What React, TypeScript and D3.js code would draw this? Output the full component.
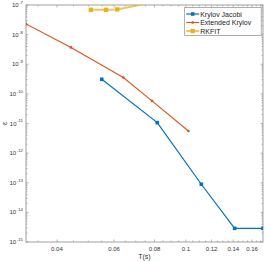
import React, { useRef, useEffect } from 'react';
import * as d3 from 'd3';

// error vs. time
const jacobiT = [0.055, 0.0816, 0.1116, 0.1414, 0.173];
const jacobiErr = [3.1e-10, 1.07e-11, 8.9e-14, 2.9e-15, 2.9e-15];
const extendedT = [0.0321, 0.0442, 0.0641, 0.0786, 0.1018];
const extendedErr = [2.3e-8, 3.7e-9, 3.55e-10, 5.8e-11, 5.6e-12];
const rkfitT = [0.0509, 0.0567, 0.0614, 0.08];
const rkfitErr = [6.9e-8, 6.9e-8, 7.1e-8, 1.28e-7];

const seriesNames = ['Krylov Jacobi', 'Extended Krylov', 'RKFIT'];
const xTickValues = [0.04, 0.06, 0.08, 0.1, 0.12, 0.14, 0.16];
const yExponents = [-7, -8, -9, -10, -11, -12, -13, -14, -15];

const COLORS = ['#0072BD', '#D95319', '#EDB120'];
const FONT = "'Liberation Sans', Arial, sans-serif";

export default function App() {
  const svgRef = useRef<SVGSVGElement>(null);
  const width = 266;
  const height = 262;

  useEffect(() => {
    const svg = d3.select(svgRef.current);
    svg.selectAll('*').remove();

    const margin = { top: 5, right: 3, bottom: 20, left: 26 };
    const innerWidth = width - margin.left - margin.right;
    const innerHeight = height - margin.top - margin.bottom;

    const xScale = d3.scaleLog().domain([0.0321, 0.173]).range([0, innerWidth]);
    const yScale = d3.scaleLog().domain([1e-15, 1e-7]).range([innerHeight, 0]);

    svg.append('defs')
      .append('clipPath')
      .attr('id', 'plot-clip')
      .append('rect')
      .attr('width', innerWidth)
      .attr('height', innerHeight);

    const g = svg.append('g').attr('transform', `translate(${margin.left},${margin.top})`);

    const axisColor = '#8a8a8a';

    // box
    g.append('rect')
      .attr('width', innerWidth)
      .attr('height', innerHeight)
      .attr('fill', 'white')
      .attr('stroke', axisColor)
      .attr('stroke-width', 0.8);

    // x ticks (bottom + top)
    const xMinor = d3.range(0.035, 0.1726, 0.005).filter(v => v > 0.0321 && v < 0.173);
    const xTicksG = g.append('g').attr('stroke', axisColor).attr('stroke-width', 0.6);
    xMinor.forEach(v => {
      const major = xTickValues.some(t => Math.abs(t - v) < 1e-6);
      const len = major ? 2.5 : 1.5;
      const x = xScale(v);
      xTicksG.append('line').attr('x1', x).attr('x2', x).attr('y1', innerHeight).attr('y2', innerHeight - len);
      xTicksG.append('line').attr('x1', x).attr('x2', x).attr('y1', 0).attr('y2', len);
    });

    g.append('g')
      .selectAll('text')
      .data(xTickValues)
      .enter()
      .append('text')
      .attr('x', d => xScale(d))
      .attr('y', innerHeight + 9)
      .attr('text-anchor', 'middle')
      .attr('font-family', FONT)
      .attr('font-size', 6)
      .attr('fill', '#333')
      .text(d => String(d));

    // y ticks (left + right)
    const yTicksG = g.append('g').attr('stroke', axisColor).attr('stroke-width', 0.6);
    yExponents.forEach(e => {
      const y = yScale(Math.pow(10, e));
      yTicksG.append('line').attr('x1', 0).attr('x2', 2.5).attr('y1', y).attr('y2', y);
      yTicksG.append('line').attr('x1', innerWidth).attr('x2', innerWidth - 2.5).attr('y1', y).attr('y2', y);
      if (e > -15) {
        d3.range(2, 10).forEach(m => {
          const ym = yScale(m * Math.pow(10, e - 1));
          yTicksG.append('line').attr('x1', 0).attr('x2', 1.5).attr('y1', ym).attr('y2', ym);
          yTicksG.append('line').attr('x1', innerWidth).attr('x2', innerWidth - 1.5).attr('y1', ym).attr('y2', ym);
        });
      }
    });

    yExponents.forEach(e => {
      const t = g.append('text')
        .attr('x', -3)
        .attr('y', yScale(Math.pow(10, e)) + 2.1)
        .attr('text-anchor', 'end')
        .attr('font-family', FONT)
        .attr('font-size', 6)
        .attr('fill', '#333');
      t.append('tspan').text('10');
      t.append('tspan').attr('dy', -3.2).attr('dx', 0.6).attr('font-size', 4.3).text(String(e));
    });

    // labels
    g.append('text')
      .attr('x', innerWidth / 2)
      .attr('y', innerHeight + 17)
      .attr('text-anchor', 'middle')
      .attr('font-family', FONT)
      .attr('font-size', 7)
      .attr('fill', '#333')
      .text('T(s)');

    g.append('text')
      .attr('transform', `translate(${-19},${innerHeight / 2}) rotate(-90)`)
      .attr('text-anchor', 'middle')
      .attr('font-family', FONT)
      .attr('font-size', 7)
      .attr('fill', '#333')
      .text('ε');

    // series
    const series = [
      { t: jacobiT, e: jacobiErr, width: 1.2, r: 1.8, shape: 'square' },
      { t: extendedT, e: extendedErr, width: 1.1, r: 1.3, shape: 'circle' },
      { t: rkfitT, e: rkfitErr, width: 2, r: 2.2, shape: 'square' }
    ];

    const plot = g.append('g').attr('clip-path', 'url(#plot-clip)');

    series.forEach((s, i) => {
      const pts = s.t.map((t, k) => [t, s.e[k]] as [number, number]);
      const line = d3.line<[number, number]>()
        .x(d => xScale(d[0]))
        .y(d => yScale(d[1]));
      plot.append('path')
        .datum(pts)
        .attr('d', line)
        .attr('fill', 'none')
        .attr('stroke', COLORS[i])
        .attr('stroke-opacity', i === 2 ? 0.75 : 1)
        .attr('stroke-width', s.width);

      pts.forEach(p => {
        const cx = xScale(p[0]);
        const cy = yScale(p[1]);
        if (s.shape === 'square') {
          plot.append('rect')
            .attr('x', cx - s.r)
            .attr('y', cy - s.r)
            .attr('width', s.r * 2)
            .attr('height', s.r * 2)
            .attr('fill', COLORS[i]);
        } else {
          plot.append('circle').attr('cx', cx).attr('cy', cy).attr('r', s.r).attr('fill', COLORS[i]);
        }
      });
    });

    // legend
    const lg = g.append('g').attr('transform', `translate(${184.7 - margin.left},${7.5 - margin.top})`);
    lg.append('rect')
      .attr('width', 76.5)
      .attr('height', 28)
      .attr('fill', 'white')
      .attr('stroke', axisColor)
      .attr('stroke-width', 0.7);

    seriesNames.forEach((name, i) => {
      const y = 6.5 + i * 8.5;
      lg.append('line')
        .attr('x1', 1.5)
        .attr('x2', 14.5)
        .attr('y1', y)
        .attr('y2', y)
        .attr('stroke', COLORS[i])
        .attr('stroke-opacity', i === 2 ? 0.75 : 1)
        .attr('stroke-width', series[i].width);
      if (series[i].shape === 'square') {
        lg.append('rect')
          .attr('x', 8 - series[i].r)
          .attr('y', y - series[i].r)
          .attr('width', series[i].r * 2)
          .attr('height', series[i].r * 2)
          .attr('fill', COLORS[i]);
      } else {
        lg.append('circle').attr('cx', 8).attr('cy', y).attr('r', series[i].r).attr('fill', COLORS[i]);
      }
      lg.append('text')
        .attr('x', 15.5)
        .attr('y', y + 2.5)
        .attr('font-family', FONT)
        .attr('font-size', 7)
        .attr('fill', '#222')
        .text(name);
    });
  }, []);

  return (
    <div className="d3-chart">
      <svg
        ref={svgRef}
        width={width}
        height={height}
        style={{ position: 'absolute', left: 0, top: 0, background: 'white' }}
      />
    </div>
  );
}
